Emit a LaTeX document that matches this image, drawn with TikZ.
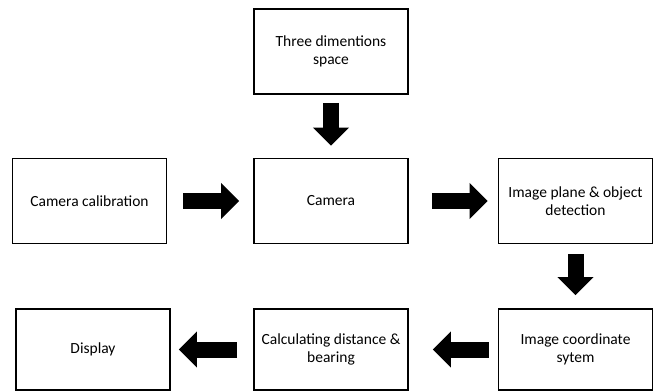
\documentclass[tikz,border=0pt]{standalone}
\usepackage{fontspec}
\setmainfont{Carlito}
\usetikzlibrary{arrows.meta}
\begin{document}
\begin{tikzpicture}[x=1pt,y=-1pt,
  stage/.style={draw=black, line width=1.8pt, minimum width=154pt, minimum height=85pt,
    align=center, inner sep=2pt, font=\fontsize{15.5}{18.5}\selectfont},
  blockarrow/.style={line width=16pt, -{Triangle[length=18pt,width=35pt]}}]
  \useasboundingbox (0,0) rectangle (661,391);
  % processing stages
  \node[stage] (space)   at (331,51.5)    {Three dimentions\\space};
  \node[stage] (calib)   at (89.5,201) {Camera calibration};
  \node[stage] (camera)  at (331,201) {Camera};
  \node[stage] (plane)   at (575.5,201) {Image plane \& object\\detection};
  \node[stage, minimum height=81pt] (display) at (93,349.5) {Display};
  \node[stage, minimum height=81pt] (calc)    at (331,349.5) {Calculating distance \&\\bearing};
  \node[stage, minimum height=81pt] (coord)   at (575.5,349.5) {Image coordinate\\sytem};
  % flow between stages
  \draw[blockarrow, shorten <=8pt, shorten >=12pt] (space) -- (camera);
  \draw[blockarrow, shorten <=16pt, shorten >=14pt] (calib) -- (camera);
  \draw[blockarrow, shorten <=23pt, shorten >=10pt] (camera) -- (plane);
  \draw[blockarrow, shorten <=10pt, shorten >=13pt] (plane) -- (coord);
  \draw[blockarrow, shorten <=9pt, shorten >=24pt] (coord) -- (calc);
  \draw[blockarrow, shorten <=16pt, shorten >=8pt] (calc) -- (display);
\end{tikzpicture}
\end{document}
